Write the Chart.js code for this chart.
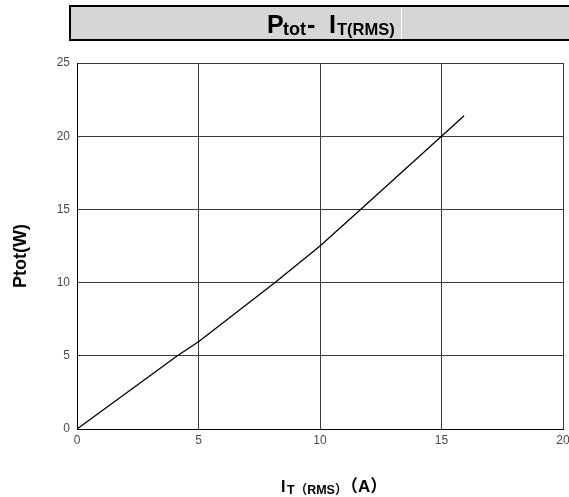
<!DOCTYPE html>
<html>
<head>
<meta charset="utf-8">
<script src="https://cdn.jsdelivr.net/npm/chart.js@4.4.1/dist/chart.umd.min.js"></script>
<style>
  html, body { margin: 0; padding: 0; background: #ffffff; }
  #wrap { width: 569px; height: 497px; position: relative; }
</style>
</head>
<body>
<div id="wrap"><canvas id="ptotChart" width="569" height="497"></canvas></div>
<script>
// Ptot vs IT(RMS) curve
const currents = [0, 4.13, 5, 8.15, 10, 11.67, 15, 15.93];
const powers = [0, 5, 5.96, 10, 12.5, 15, 20, 21.4];
const xTickValues = [0, 5, 10, 15, 20];
const yTickValues = [0, 5, 10, 15, 20, 25];

const FONT = '"Liberation Sans", Arial, sans-serif';
const CJK = '"Liberation Sans", "Noto Sans CJK SC", sans-serif';

// title pieces: text, font, x position and baseline shift
const titleRuns = [
    { text: 'P', font: 'bold 25px ' + FONT, x: 267, dy: 0 },
    { text: 'tot', font: 'bold 18px ' + FONT, x: 283, dy: 1.5 },
    { text: '-', font: 'bold 25px ' + FONT, x: 307, dy: 0 },
    { text: 'I', font: 'bold 25px ' + FONT, x: 329, dy: 0 },
    { text: 'T(RMS)', font: 'bold 16.5px ' + FONT, x: 337, dy: 1.5 }
];
const xTitleRuns = [
    { text: 'I', font: 'bold 16px ' + FONT, x: 281, dy: 0 },
    { text: 'T（RMS）', font: 'bold 12.5px ' + CJK, x: 287, dy: 2 },
    { text: '（A）', font: 'bold 17px ' + CJK, x: 341, dy: 0 }
];
const yTitle = 'Ptot(W)';

function drawRuns(ctx, runs, baseline) {
    ctx.textBaseline = 'alphabetic';
    ctx.textAlign = 'left';
    runs.forEach(run => {
        ctx.font = run.font;
        ctx.fillText(run.text, run.x, baseline + run.dy);
    });
}

const titlesPlugin = {
    id: 'titles',
    afterDraw(chart) {
        const ctx = chart.ctx;
        ctx.save();

        // grey banner with the title
        ctx.fillStyle = '#d6d6d6';
        ctx.fillRect(70, 6, 510, 34);
        ctx.strokeStyle = '#000000';
        ctx.lineWidth = 2;
        ctx.strokeRect(70, 6, 510, 34);
        ctx.fillStyle = '#ffffff';
        ctx.fillRect(401, 7, 1, 32);

        ctx.fillStyle = '#000000';
        drawRuns(ctx, titleRuns, 33);

        // x axis title
        drawRuns(ctx, xTitleRuns, 492);

        // y axis title, rotated
        ctx.translate(26, 256);
        ctx.rotate(-Math.PI / 2);
        ctx.font = 'bold 18px ' + FONT;
        ctx.textAlign = 'center';
        ctx.textBaseline = 'alphabetic';
        ctx.fillText(yTitle, 0, 0);
        ctx.restore();
    }
};

const points = currents.map((c, i) => ({ x: c, y: powers[i] }));

new Chart(document.getElementById('ptotChart').getContext('2d'), {
    type: 'scatter',
    data: {
        datasets: [{
            data: points,
            showLine: true,
            borderColor: '#000000',
            borderWidth: 1.3,
            pointRadius: 0,
            tension: 0
        }]
    },
    options: {
        responsive: false,
        animation: false,
        events: [],
        layout: {
            padding: { left: 0, right: 6, top: 63, bottom: 0 }
        },
        plugins: {
            legend: { display: false },
            tooltip: { enabled: false }
        },
        scales: {
            x: {
                type: 'linear',
                min: 0,
                max: 20,
                afterBuildTicks: scale => {
                    scale.ticks = xTickValues.map(v => ({ value: v }));
                },
                afterFit: scale => {
                    scale.height = 68;
                    // let the last label run off the canvas like the original
                    scale.paddingRight = 0;
                    scale.paddingLeft = 0;
                },
                ticks: {
                    color: '#4a4a4a',
                    padding: 4,
                    font: { family: FONT, size: 12 }
                },
                grid: {
                    color: '#3a3a3a',
                    drawTicks: false
                },
                border: { display: true, color: '#000000', width: 1 }
            },
            y: {
                min: 0,
                max: 25,
                afterBuildTicks: scale => {
                    scale.ticks = yTickValues.map(v => ({ value: v }));
                },
                afterFit: scale => {
                    scale.width = 77;
                },
                ticks: {
                    color: '#4a4a4a',
                    padding: 7,
                    font: { family: FONT, size: 12 }
                },
                grid: {
                    color: '#3a3a3a',
                    drawTicks: false
                },
                border: { display: true, color: '#000000', width: 1 }
            }
        }
    },
    plugins: [titlesPlugin]
});
</script>
</body>
</html>
